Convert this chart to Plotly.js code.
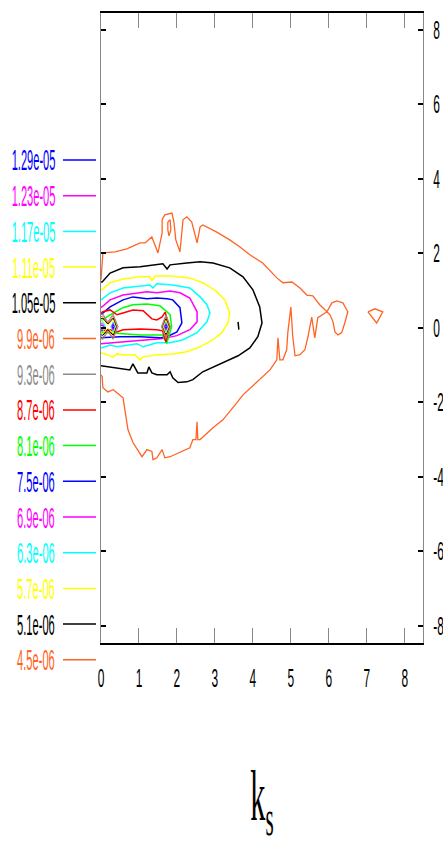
<!DOCTYPE html>
<html>
<head>
<meta charset="utf-8">
<script src="https://cdn.plot.ly/plotly-3.0.1.min.js"></script>
<style>html,body{margin:0;padding:0;background:#fff;}#chart{width:443px;height:846px;}</style>
</head>
<body>
<div id="chart"></div>
<script>
// ---- legend / levels ----
const levelLabels = ["1.29e-05","1.23e-05","1.17e-05","1.11e-05","1.05e-05","9.9e-06","9.3e-06","8.7e-06","8.1e-06","7.5e-06","6.9e-06","6.3e-06","5.7e-06","5.1e-06","4.5e-06"];
const levelColors = ["#0000ff","#ff00ff","#00ffff","#ffff00","#000000","#ff6424","#8c8c8c","#ff0000","#00ff00","#0000ff","#ff00ff","#00ffff","#ffff00","#000000","#ff6424"];

// ---- axis ticks ----
const xTickVals = [0,1,2,3,4,5,6,7,8];
const yTickVals = [-8,-6,-4,-2,0,2,4,6,8];
const yTickText = ["-8","-6","-4","-2","0","2","4","6","8"];

// ---- contour lines (null separates pieces) ----
const c45x = [0,0.05,0.37,0.68,1.03,1.16,1.34,1.50,1.61,1.61,1.68,1.87,1.92,1.97,2.08,2.16,2.26,2.39,2.53,2.61,2.68,3.05,3.39,3.66,3.92,4.26,4.63,4.79,5.03,5.24,5.42,5.58,5.76,5.95,6.08,6.21,6.37,6.50,6.42,6.34,6.24,6.16,6.11,6.03,5.95,5.82,5.71,5.63,5.55,5.45,5.37,5.24,5.11,5.05,5.00,4.92,4.89,4.79,4.71,4.66,4.63,4.45,4.26,4.00,3.74,3.58,3.21,2.95,2.61,2.55,2.53,2.50,2.42,2.34,2.08,1.82,1.68,1.61,1.47,1.37,1.34,1.21,1.08,0.84,0.71,0.63,0.58,0.42,0.32,0.18,0.05,0.03,0,
  null,1.76,1.82,1.84,1.79,1.76,1.76,
  null,7.03,7.21,7.42,7.26,7.03];
const c45y = [1.29,2.01,2.04,2.12,2.28,2.28,2.44,2.01,2.55,2.90,3.03,3.08,2.84,2.36,2.04,2.90,2.98,2.84,2.28,2.71,2.76,2.57,2.36,2.17,1.96,1.74,1.34,1.21,1.23,1.07,0.88,0.86,0.62,0.43,0.67,0.72,0.67,0.43,0.13,-0.13,-0.19,-0.11,0.16,0.35,0.43,0.35,0.27,-0.27,0.29,-0.24,-0.59,-0.72,-0.75,-0.24,0.56,-0.13,-0.59,-0.86,-0.86,-0.27,-0.86,-1.13,-1.31,-1.58,-1.80,-2.01,-2.47,-2.68,-3.00,-3.00,-2.52,-3.00,-3.00,-3.22,-3.35,-3.46,-3.49,-3.27,-3.49,-3.54,-3.32,-3.27,-3.46,-3.08,-2.73,-2.12,-1.88,-1.74,-1.66,-1.72,-1.61,-1.31,-1.26,
  null,2.84,2.90,2.63,2.47,2.63,2.84,
  null,0.43,0.51,0.43,0.13,0.43];

const c51x = [0,0.03,0.24,0.58,1.03,1.47,1.63,1.74,1.82,2.26,2.61,2.95,3.39,3.74,4.00,4.18,4.24,4.13,3.92,3.61,3.26,2.95,2.68,2.42,2.26,2.03,1.89,1.82,1.74,1.47,1.34,1.26,1.21,0.97,0.84,0.76,0.55,0.24,0.03,0,
  null,3.61,3.63];
const c51y = [1.23,1.23,1.47,1.61,1.64,1.69,1.72,1.58,1.69,1.74,1.77,1.74,1.61,1.37,1.02,0.56,0.13,-0.24,-0.54,-0.75,-0.91,-1.05,-1.18,-1.39,-1.45,-1.47,-1.34,-1.18,-1.26,-1.26,-1.21,-1.05,-1.21,-1.21,-0.97,-1.13,-1.10,-1.05,-1.02,-1.02,
  null,0.16,-0.05];

const c57x = [0,0.03,0.24,0.58,1.03,1.29,1.34,1.42,1.82,2.34,2.68,3.05,3.26,3.39,3.34,3.18,2.95,2.61,2.26,1.89,1.47,1.11,1.03,0.89,0.58,0.42,0.32,0.16,0];
const c57y = [1.02,1.02,1.21,1.31,1.37,1.37,1.26,1.39,1.39,1.34,1.21,0.97,0.75,0.40,0.13,-0.13,-0.32,-0.51,-0.64,-0.70,-0.72,-0.78,-0.86,-0.72,-0.72,-0.70,-0.78,-0.72,-0.67];

const c63x = [0,0.24,0.58,1.03,1.29,1.37,1.47,1.89,2.34,2.61,2.79,2.87,2.79,2.53,2.16,1.82,1.47,1.11,0.95,0.42,0.24,0];
const c63y = [0.75,0.94,1.07,1.13,1.15,1.07,1.18,1.15,1.07,0.83,0.62,0.40,0.16,-0.13,-0.32,-0.40,-0.40,-0.51,-0.43,-0.51,-0.46,-0.54];

const c69x = [0,0.24,0.58,0.95,1.21,1.47,1.82,2.08,2.34,2.53,2.53,2.34,2.00,1.63,1.29,0.95,0.58,0.24,0];
const c69y = [0.54,0.75,0.88,0.94,0.97,0.94,0.99,0.94,0.80,0.43,0.16,-0.05,-0.21,-0.29,-0.32,-0.35,-0.38,-0.40,-0.43];

const c75x = [0,0.24,0.58,0.84,1.21,1.47,1.74,1.89,2.08,2.13,2.00,1.74,1.55,1.03,0.50,0];
const c75y = [0.35,0.56,0.75,0.83,0.78,0.80,0.78,0.75,0.54,0.13,-0.11,-0.24,-0.27,-0.24,-0.24,-0.27];

const c81x = [0,0.24,0.58,0.84,1.21,1.55,1.68,1.82,1.86,1.73,1.62,1.47,1.03,0.58,0.24,0];
const c81y = [0.19,0.35,0.54,0.62,0.64,0.59,0.48,0.35,0.03,-0.42,-0.19,-0.19,-0.19,-0.16,-0.13,-0.13];

const c87x = [0,0.05,0.24,0.42,0.58,0.84,1.11,1.24,1.34,1.47,1.61,1.69,1.80,1.71,1.62,1.47,1.03,0.58,0.42,0.24,0];
const c87y = [0.40,0.43,0.48,0.35,0.40,0.48,0.46,0.35,0.24,0.21,0.29,0.42,0.03,-0.38,-0.08,-0.05,-0.03,-0.05,-0.11,-0.05,-0.08];

const c93x = [0,0.05,0.18,0.32,0.45,0.32,0.18,0.05,0, null,1.71,1.83,1.71,1.59,1.71];
const c93y = [0.35,0.37,0.16,0.37,0.03,-0.31,-0.10,-0.31,-0.29, null,0.35,0.03,-0.29,0.03,0.35];

const c99x = [0,0.05,0.18,0.32,0.42,0.32,0.18,0.05,0, null,1.71,1.81,1.71,1.61,1.71];
const c99y = [0.30,0.32,0.13,0.32,0.03,-0.26,-0.07,-0.26,-0.24, null,0.30,0.03,-0.24,0.03,0.30];

const c105x = [0,0.05,0.18,0.32,0.40,0.32,0.18,0.05,0, null,1.71,1.79,1.71,1.63,1.71];
const c105y = [0.25,0.26,0.10,0.26,0.03,-0.20,-0.04,-0.20,-0.19, null,0.24,0.03,-0.18,0.03,0.24];

const c111x = [0,0.05,0.18,0.32,0.38,0.32,0.18,0.05,0, null,1.71,1.78,1.71,1.64,1.71];
const c111y = [0.20,0.21,0.07,0.21,0.03,-0.15,-0.01,-0.15,-0.14, null,0.20,0.03,-0.14,0.03,0.20];

const c117x = [0,0.05,0.12,0.05,0, null,0.32,0.37,0.32,0.26,0.32, null,1.71,1.76,1.71,1.66,1.71];
const c117y = [0.15,0.16,0.03,-0.10,-0.09, null,0.16,0.03,-0.10,0.03,0.16, null,0.16,0.03,-0.10,0.03,0.16];

const c123x = [0,0.04,0.09,0.04,0, null,0.32,0.35,0.32,0.28,0.32, null,1.71,1.75,1.71,1.67,1.71];
const c123y = [0.11,0.11,0.03,-0.05,-0.05, null,0.12,0.03,-0.06,0.03,0.12, null,0.12,0.03,-0.06,0.03,0.12];

const c129x = [0,0.03,0.06,0.03,0, null,0.32,0.34,0.32,0.30,0.32, null,1.71,1.73,1.71,1.69,1.71];
const c129y = [0.07,0.07,0.03,-0.01,-0.01, null,0.08,0.03,-0.02,0.03,0.08, null,0.08,0.03,-0.02,0.03,0.08];

// level index (into levelColors) for each contour, outermost first
const contours = [
  [c45x, c45y, 14, 1.3], [c51x, c51y, 13, 1.5], [c57x, c57y, 12, 1.5], [c63x, c63y, 11, 1.5],
  [c69x, c69y, 10, 1.5], [c75x, c75y, 9, 1.5], [c81x, c81y, 8, 1.5], [c87x, c87y, 7, 1.5],
  [c93x, c93y, 6, 1], [c99x, c99y, 5, 1], [c105x, c105y, 4, 1], [c111x, c111y, 3, 1],
  [c117x, c117y, 2, 1], [c123x, c123y, 1, 1], [c129x, c129y, 0, 1]
];

const traces = contours.map(c => ({
  type: 'scatter', mode: 'lines', x: c[0], y: c[1], connectgaps: false,
  line: {color: levelColors[c[2]], width: c[3]}, hoverinfo: 'skip', showlegend: false
}));

// legend drawn at left, text then a short line
const M = {l: 101, r: 20, t: 13, b: 203};
const plotW = 443 - M.l - M.r, plotH = 846 - M.t - M.b;
const shapes = [], annotations = [];
levelLabels.forEach((lab, i) => {
  const py = 160 + i * 35.7;
  const yp = (846 - M.b - py) / plotH;
  shapes.push({type: 'line', xref: 'paper', yref: 'paper', x0: (63 - M.l) / plotW, x1: (96 - M.l) / plotW, y0: yp, y1: yp,
    line: {color: levelColors[i], width: 1.5}});
  annotations.push({xref: 'paper', yref: 'paper', x: (57 - M.l) / plotW, y: yp, xanchor: 'right', yanchor: 'middle', align: 'right',
    text: lab, showarrow: false, font: {family: 'Liberation Sans, Arial, sans-serif', size: 30, color: levelColors[i]}});
});

const layout = {
  width: 443, height: 846, margin: M,
  paper_bgcolor: '#fff', plot_bgcolor: '#fff',
  showlegend: false,
  xaxis: {
    range: [0, 8.48], tickvals: xTickVals, ticks: 'inside', ticklen: 15, tickwidth: 1, tickcolor: '#888',
    showline: true, linecolor: '#000', linewidth: 2, mirror: 'allticks', showgrid: false, zeroline: false,
    tickfont: {family: 'Liberation Sans, Arial, sans-serif', size: 26, color: '#000'}, ticklabelstandoff: 11,
    title: {text: 'k<sub>s</sub>', font: {family: 'Liberation Serif, Times New Roman, serif', size: 72, color: '#000'}, standoff: 77}
  },
  yaxis: {
    range: [-8.46, 8.45], side: 'right', tickvals: yTickVals, ticktext: yTickText,
    ticks: 'inside', ticklen: 5, tickwidth: 2, tickcolor: '#000',
    showline: true, linecolor: '#888', linewidth: 1, mirror: 'allticks', showgrid: false, zeroline: false,
    tickfont: {family: 'Liberation Sans, Arial, sans-serif', size: 26, color: '#000'}, ticklabelstandoff: 4
  },
  shapes: shapes, annotations: annotations
};

function condense(sel, s) {
  document.querySelectorAll(sel).forEach(t => {
    const x = parseFloat(t.getAttribute('x')) || 0;
    const tr = t.getAttribute('transform') || '';
    t.setAttribute('transform', tr + ' translate(' + x + ',0) scale(' + s + ',1) translate(' + (-x) + ',0)');
  });
}

Plotly.newPlot('chart', traces, layout, {staticPlot: true, displayModeBar: false}).then(() => {
  condense('#chart .xtick text', 0.46);
  condense('#chart .ytick text', 0.46);
  condense('#chart .annotation-text', 0.37);
  condense('#chart .g-xtitle text', 0.42);
});
</script>
</body>
</html>
